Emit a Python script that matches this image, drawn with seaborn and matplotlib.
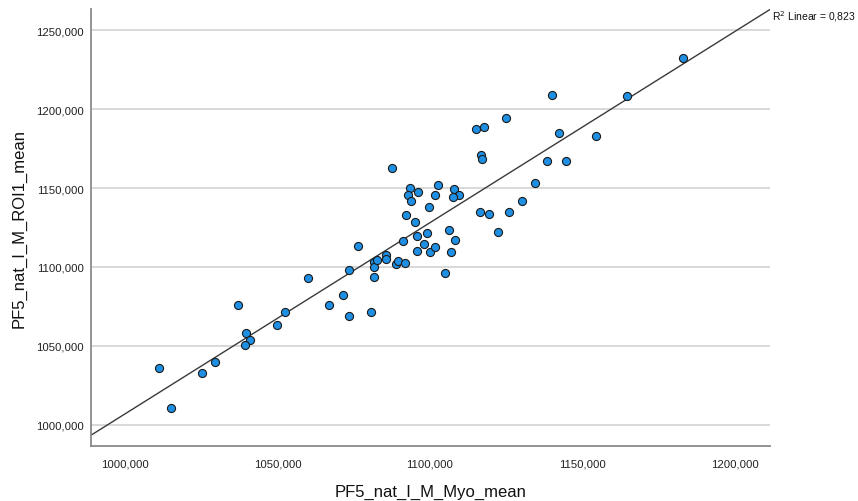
import matplotlib
matplotlib.use("Agg")
import matplotlib.pyplot as plt
from matplotlib.ticker import FuncFormatter, FixedLocator
import numpy as np
import pandas as pd
import seaborn as sns

# Mean intensities per subject
myo_mean = [
    1011.3, 1015.2, 1025.4, 1029.5, 1037.2, 1039.8, 1040.9, 1039.2, 1049.9, 1052.4,
    1060.1, 1066.8, 1071.6, 1073.6, 1073.3, 1076.4, 1080.7, 1081.8, 1081.5, 1081.8,
    1082.6, 1085.5, 1085.5, 1088.7, 1089.5, 1091.9, 1091.3, 1095.9, 1095.9, 1098.2,
    1099.1, 1100.1, 1101.5, 1106.4, 1108.1, 1106.9, 1105.0, 1087.5, 1093.5, 1092.8,
    1096.1, 1093.7, 1102.5, 1101.6, 1107.8, 1109.6, 1107.5, 1099.8, 1092.1, 1095.2,
    1116.8, 1117.1, 1116.3, 1119.5, 1140.0, 1164.6, 1124.8, 1115.0, 1117.6, 1142.2,
    1154.3, 1138.3, 1144.6, 1134.4, 1130.3, 1126.0, 1122.2, 1183.0,
]
roi1_mean = [
    1035.9, 1011.0, 1033.2, 1039.9, 1075.9, 1058.3, 1053.5, 1050.5, 1063.0, 1071.6,
    1092.8, 1075.9, 1082.2, 1068.7, 1098.0, 1113.4, 1071.2, 1093.4, 1102.9, 1100.1,
    1104.4, 1107.5, 1105.0, 1101.8, 1103.7, 1102.3, 1116.4, 1109.9, 1119.8, 1114.3,
    1121.4, 1109.6, 1112.8, 1123.6, 1117.0, 1109.6, 1096.1, 1162.7, 1149.8, 1145.8,
    1147.3, 1142.0, 1151.9, 1145.8, 1149.4, 1145.8, 1144.1, 1138.2, 1132.7, 1128.6,
    1171.1, 1168.3, 1135.0, 1133.3, 1208.9, 1208.5, 1194.2, 1187.4, 1188.8, 1185.0,
    1183.1, 1167.3, 1167.3, 1153.4, 1141.6, 1134.6, 1121.9, 1232.1,
]
r2_linear = 0.823

x_ticks = [1000, 1050, 1100, 1150, 1200]
y_ticks = [1000, 1050, 1100, 1150, 1200, 1250]

df = pd.DataFrame({"PF5_nat_I_M_Myo_mean": myo_mean,
                   "PF5_nat_I_M_ROI1_mean": roi1_mean})

sns.set_theme(style="white")
plt.rcParams["font.family"] = ["Liberation Sans", "DejaVu Sans"]

fig = plt.figure(figsize=(8.58, 5.02), dpi=100)
ax = fig.add_axes([91 / 858, 1 - 447 / 502, (770 - 91) / 858, (447 - 10) / 502])

ax.set_xlim(988.85, 1211.5)
ax.set_ylim(986.7, 1263.3)

# horizontal reference lines
for yv in y_ticks:
    ax.axhline(yv, color="#d6d6d6", lw=1.3, zorder=0)

# linear fit across the full x range
sns.regplot(data=df, x="PF5_nat_I_M_Myo_mean", y="PF5_nat_I_M_ROI1_mean",
            scatter=False, ci=None, truncate=False, ax=ax,
            line_kws=dict(color="#3a3a3a", lw=1.0, zorder=2))

sns.scatterplot(data=df, x="PF5_nat_I_M_Myo_mean", y="PF5_nat_I_M_ROI1_mean",
                ax=ax, s=34, color="#1f8fe3", edgecolor="#1a1a1a",
                linewidth=0.8, zorder=3)

ax.set_xlim(988.85, 1211.5)
ax.set_ylim(986.7, 1263.3)

fmt = FuncFormatter(lambda v, p: f"{v:.3f}".replace(".", ","))
ax.xaxis.set_major_locator(FixedLocator(x_ticks))
ax.yaxis.set_major_locator(FixedLocator(y_ticks))
ax.xaxis.set_major_formatter(fmt)
ax.yaxis.set_major_formatter(fmt)
ax.tick_params(axis="both", length=0, labelsize=8.2, colors="#222222")
ax.tick_params(axis="x", pad=9)
ax.tick_params(axis="y", pad=5)

for side in ("top", "right"):
    ax.spines[side].set_visible(False)
for side in ("left", "bottom"):
    ax.spines[side].set_color("#8a8a8a")
    ax.spines[side].set_linewidth(1.3)

ax.set_xlabel("PF5_nat_I_M_Myo_mean", fontsize=12, color="#111111", labelpad=11)
ax.set_ylabel("PF5_nat_I_M_ROI1_mean", fontsize=12, color="#111111", labelpad=7)
ax.grid(False)

ax.text(1.003, 0.984, "R$^2$ Linear = " + f"{r2_linear:.3f}".replace(".", ","),
        transform=ax.transAxes, ha="left", va="center", fontsize=7.5,
        color="#111111", clip_on=False)

fig.savefig("out.png", dpi=100)
